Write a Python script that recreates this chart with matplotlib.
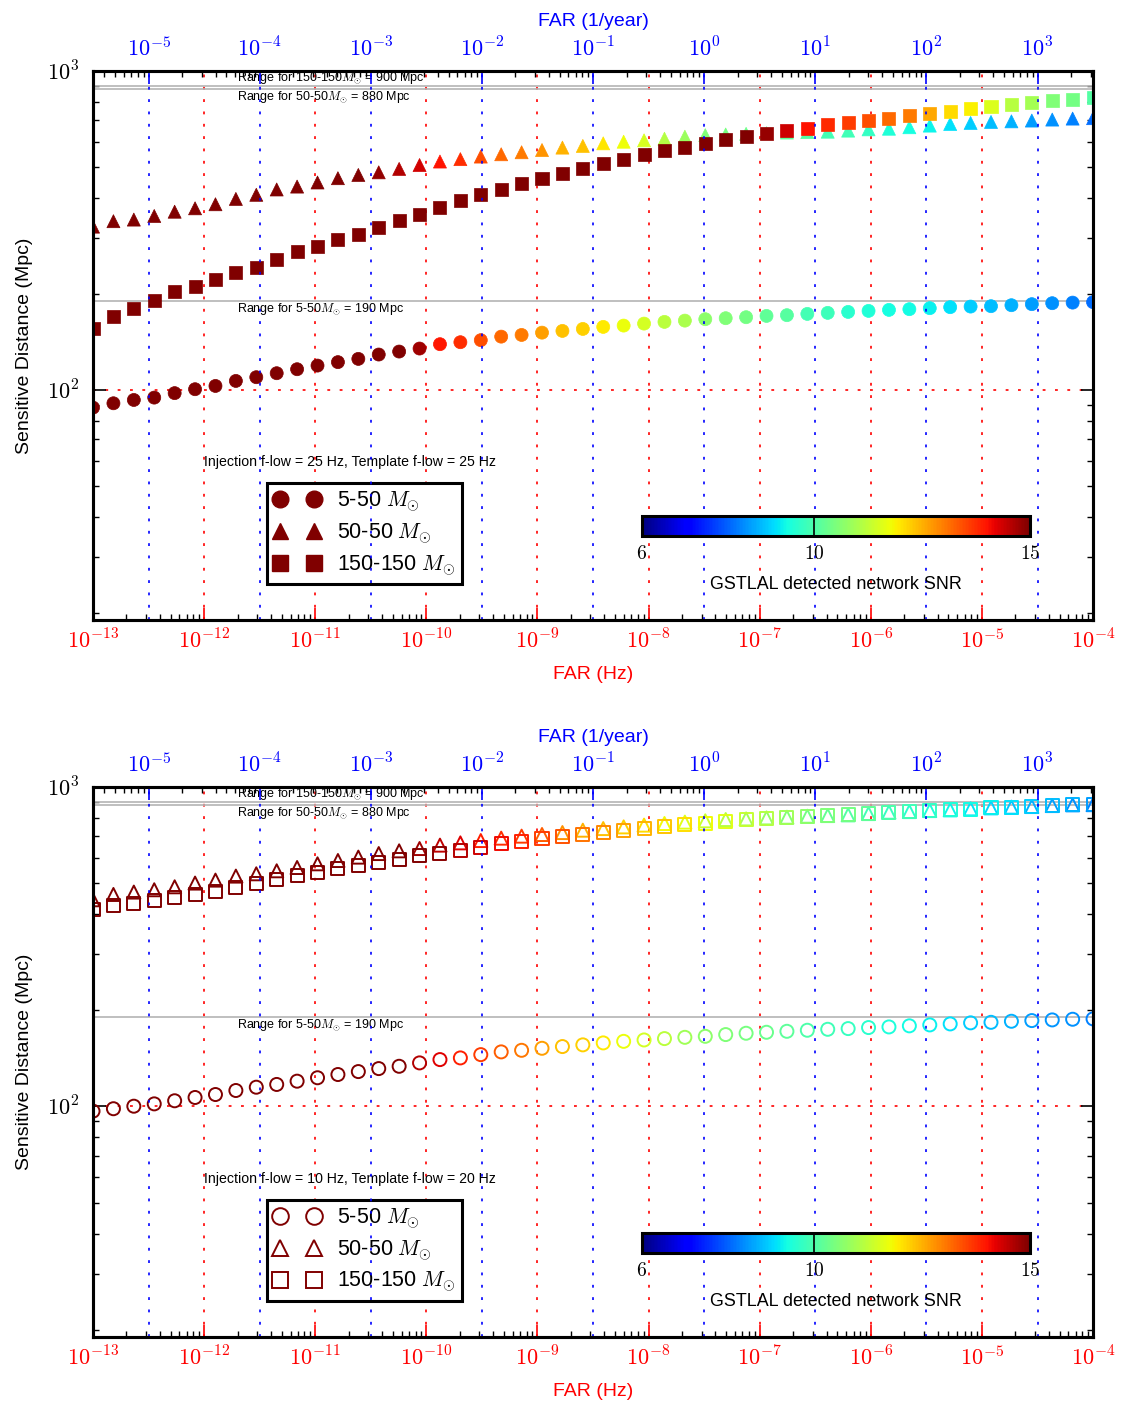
import numpy as np
import matplotlib
matplotlib.use('Agg')
import matplotlib.pyplot as plt
from matplotlib.lines import Line2D
from matplotlib import transforms
from matplotlib.colors import Normalize
from matplotlib.cm import ScalarMappable
from matplotlib.ticker import FuncFormatter

plt.rcParams['font.family'] = ['Liberation Sans', 'DejaVu Sans']
plt.rcParams['mathtext.fontset'] = 'cm'

# ---------------- data ----------------
log_far_hz = [-13.0, -12.8163, -12.6327, -12.449, -12.2653, -12.0816, -11.898, -11.7143, -11.5306, -11.3469,
              -11.1633, -10.9796, -10.7959, -10.6122, -10.4286, -10.2449, -10.0612, -9.8776, -9.6939, -9.5102,
              -9.3265, -9.1429, -8.9592, -8.7755, -8.5918, -8.4082, -8.2245, -8.0408, -7.8571, -7.6735,
              -7.4898, -7.3061, -7.1224, -6.9388, -6.7551, -6.5714, -6.3878, -6.2041, -6.0204, -5.8367,
              -5.6531, -5.4694, -5.2857, -5.102, -4.9184, -4.7347, -4.551, -4.3673, -4.1837, -4.0]

mass_labels = [r'5-50 $M_{\odot}$', r'50-50 $M_{\odot}$', r'150-150 $M_{\odot}$']
range_labels = [r'Range for 150-150$M_{\odot}$ = 900 Mpc', r'Range for 50-50$M_{\odot}$ = 880 Mpc',
                r'Range for 5-50$M_{\odot}$ = 190 Mpc']
range_values = [900, 880, 190]
flow_labels = ['Injection f-low = 25 Hz, Template f-low = 25 Hz',
               'Injection f-low = 10 Hz, Template f-low = 20 Hz']
snr_ticks = [6, 10, 15]

# top panel (f-low 25/25)
top_dist_5_50 = [88.0, 90.8, 93.0, 94.6, 97.7, 100.5, 102.9, 106.7, 109.6, 112.8,
                 116.1, 119.2, 122.2, 125.1, 129.1, 131.9, 134.8, 139.1, 141.1, 143.2,
                 146.9, 148.7, 151.2, 153.1, 155.3, 157.6, 159.1, 161.4, 163.4, 164.9,
                 166.6, 167.8, 169.0, 170.6, 171.5, 173.1, 174.4, 175.6, 176.9, 178.2,
                 179.1, 180.4, 181.7, 182.5, 183.0, 184.3, 185.7, 187.0, 187.8, 188.4]
top_snr_5_50 = [19.8, 19.4, 19.0, 18.6, 18.2, 17.9, 17.6, 17.3, 17.0, 16.7,
                16.4, 16.1, 15.8, 15.5, 15.3, 15.05, 14.75, 13.95, 13.75, 13.45,
                13.2, 13.0, 12.65, 12.35, 12.2, 11.95, 11.7, 11.45, 11.2, 11.0,
                10.7, 10.55, 10.4, 10.2, 10.1, 9.9, 9.8, 9.6, 9.5, 9.4,
                9.35, 9.25, 9.1, 8.95, 8.8, 8.7, 8.5, 8.4, 8.25, 8.1]
top_dist_50_50 = [325, 338, 342, 351, 362, 371, 382, 397, 409, 425,
                  434, 447, 461, 472, 481, 493, 507, 520, 529, 539,
                  548, 556, 565, 575, 582, 593, 600, 606, 613, 622,
                  629, 632, 635, 638, 641, 643, 645, 650, 656, 659,
                  666, 674, 682, 687, 692, 695, 699, 704, 709, 711]
top_snr_50_50 = [20.5, 20.0, 19.6, 19.2, 18.8, 18.4, 18.0, 17.6, 17.2, 16.8,
                 16.4, 16.0, 15.6, 15.1, 14.85, 14.6, 14.35, 14.0, 13.75, 13.45,
                 13.2, 13.0, 12.75, 12.5, 12.35, 12.0, 11.75, 11.5, 11.1, 10.85,
                 10.55, 10.45, 10.35, 10.25, 10.15, 10.05, 9.9, 9.85, 9.7, 9.5,
                 9.4, 9.3, 9.1, 8.95, 8.8, 8.7, 8.5, 8.4, 8.25, 8.1]
top_dist_150_150 = [156.1, 169.7, 180.4, 190.1, 203.3, 210.8, 221.2, 233.2, 242.5, 255.6,
                    271.4, 281.3, 295.3, 307.7, 323.6, 338.8, 355.6, 373.9, 391.3, 408.6,
                    425.1, 442.3, 460.3, 477.9, 493.0, 512.2, 526.0, 546.6, 562.6, 576.6,
                    593.5, 607.7, 622.3, 636.0, 650.0, 661.3, 677.2, 687.1, 698.6, 708.8,
                    722.7, 733.3, 748.0, 760.0, 772.0, 783.0, 793.8, 805.3, 812.8, 824.6]
top_snr_150_150 = [28.0, 27.5, 27.0, 26.5, 26.0, 25.5, 25.0, 24.5, 24.0, 23.5,
                   23.0, 22.5, 22.0, 21.5, 21.0, 20.5, 20.0, 19.5, 19.0, 18.6,
                   18.2, 17.8, 17.4, 17.0, 16.7, 16.4, 16.1, 15.9, 15.7, 15.5,
                   15.35, 15.2, 15.1, 14.8, 14.4, 14.0, 13.8, 13.6, 13.45, 13.2,
                   13.0, 12.6, 12.1, 11.9, 11.55, 11.15, 10.95, 10.55, 10.4, 10.05]

# bottom panel (f-low 10/20)
bot_dist_5_50 = [96.7, 98.4, 100.2, 101.9, 104.2, 106.7, 109.0, 112.2, 114.9, 117.2,
                 120.0, 123.0, 125.9, 128.6, 131.4, 133.6, 136.9, 140.2, 141.9, 145.3,
                 148.2, 149.9, 152.1, 154.0, 155.9, 158.1, 159.9, 161.5, 163.1, 164.6,
                 165.8, 167.9, 169.5, 170.7, 171.9, 173.2, 174.4, 175.3, 176.6, 177.4,
                 178.8, 180.0, 181.3, 182.7, 183.4, 184.8, 185.7, 186.6, 187.5, 188.0]
bot_snr_5_50 = [19.8, 19.4, 19.0, 18.6, 18.2, 17.9, 17.6, 17.3, 17.0, 16.7,
                16.4, 16.1, 15.8, 15.5, 15.3, 15.05, 14.6, 14.25, 13.9, 13.6,
                13.3, 13.05, 12.65, 12.35, 12.2, 11.95, 11.7, 11.45, 11.2, 10.9,
                10.7, 10.55, 10.45, 10.3, 10.15, 10.0, 9.85, 9.75, 9.6, 9.45,
                9.35, 9.25, 9.1, 8.95, 8.8, 8.7, 8.5, 8.45, 8.4, 8.25]
bot_dist_50_50 = [443.5, 460.8, 468.8, 476.7, 487.0, 500.2, 511.0, 526.0, 534.8, 546.5,
                  559.6, 574.7, 588.5, 603.1, 618.8, 631.0, 641.6, 657.5, 668.3, 679.6,
                  691.4, 701.5, 709.8, 719.8, 732.3, 740.9, 749.9, 759.5, 768.3, 776.1,
                  783.3, 790.7, 794.3, 800.1, 804.1, 809.9, 813.5, 817.6, 825.3, 833.6,
                  837.3, 843.3, 847.6, 853.8, 860.0, 864.4, 868.2, 874.3, 878.8, 880.0]
bot_snr_50_50 = [20.5, 20.0, 19.6, 19.2, 18.8, 18.4, 18.0, 17.6, 17.2, 16.8,
                 16.4, 16.0, 15.7, 15.4, 15.2, 15.05, 14.75, 14.5, 14.25, 13.9,
                 13.75, 13.6, 13.3, 12.8, 12.5, 12.35, 12.2, 12.05, 11.8, 11.6,
                 11.35, 11.15, 10.95, 10.75, 10.6, 10.4, 10.25, 10.05, 9.9, 9.75,
                 9.6, 9.45, 9.3, 9.15, 9.0, 8.85, 8.7, 8.55, 8.4, 8.25]
bot_dist_150_150 = [412.6, 424.7, 433.1, 440.3, 450.9, 462.1, 470.8, 484.6, 500.2, 512.2,
                    527.1, 539.8, 554.3, 566.4, 580.0, 594.4, 608.6, 620.5, 632.2, 648.0,
                    663.6, 673.3, 688.0, 698.1, 709.8, 722.0, 730.4, 739.4, 751.8, 761.1,
                    766.7, 779.5, 789.0, 794.3, 802.0, 807.7, 813.5, 817.6, 823.5, 833.6,
                    837.3, 843.3, 847.6, 851.9, 861.8, 864.4, 868.2, 876.9, 878.8, 881.0]
bot_snr_150_150 = [21.0, 20.6, 20.2, 19.8, 19.4, 19.0, 18.6, 18.2, 17.8, 17.4,
                   17.0, 16.6, 16.3, 16.0, 15.7, 15.45, 15.2, 14.9, 14.6, 14.4,
                   14.1, 13.9, 13.6, 13.4, 13.1, 12.9, 12.65, 12.5, 12.3, 12.05,
                   11.8, 11.6, 11.3, 11.1, 10.9, 10.7, 10.55, 10.4, 10.2, 10.0,
                   9.85, 9.7, 9.5, 9.35, 9.25, 9.1, 8.95, 8.8, 8.7, 8.5]

SEC_PER_YEAR = 365.25 * 86400.0

# ---------------- figure ----------------
fig = plt.figure(figsize=(11.22, 14.02), dpi=100)
norm = Normalize(vmin=6, vmax=15)
cmap = plt.get_cmap('jet')
dark_red = cmap(1.0)
dots = (0, (1.7, 5.7))


def make_fmt(lo, hi):
    def fmt(v, pos):
        if v <= 0 or v < lo * 0.999 or v > hi * 1.001:
            return ''
        return r'$10^{%d}$' % int(round(np.log10(v)))
    return FuncFormatter(fmt)


def panel(rect, cbar_rect, series, filled, flow_text):
    ax = fig.add_axes(rect)
    far = 10.0 ** np.array(log_far_hz)
    markers = ['o', '^', 's']
    for (dist, snr), mk in zip(series, markers):
        cols = cmap(norm(np.array(snr)))
        if filled:
            ax.scatter(far, dist, c=cols, marker=mk, s=88, edgecolors=cols, linewidths=0.5, zorder=3)
        else:
            ax.scatter(far, dist, facecolors='none', edgecolors=cols, marker=mk, s=88,
                       linewidths=1.4, zorder=3)
    ax.set_xscale('log')
    ax.set_yscale('log')
    ax.set_xlim(1e-13, 1e-4)
    ax.set_ylim(19, 1000)
    ax.grid(True, which='major', color='red', linestyle=dots, linewidth=1.2)
    for sp in ax.spines.values():
        sp.set_linewidth(2.2)
    ax.xaxis.set_major_formatter(make_fmt(1e-13, 1e-4))
    ax.yaxis.set_major_formatter(make_fmt(19, 1000))
    ax.tick_params(axis='x', which='major', direction='in', length=9, width=1.2, color='red',
                   labelcolor='red', labelsize=16, pad=7, top=False)
    ax.tick_params(axis='x', which='minor', direction='in', length=4, width=1, color='black', top=False)
    ax.tick_params(axis='y', which='major', direction='in', length=9, width=1.2, color='black',
                   labelsize=16, pad=10, right=True)
    ax.tick_params(axis='y', which='minor', direction='in', length=4.5, width=1, color='black', right=True)
    ax.set_xlabel('FAR (Hz)', color='red', fontsize=14)
    ax.xaxis.set_label_coords(0.5, -0.083)
    ax.set_ylabel('Sensitive Distance (Mpc)', fontsize=14)
    ax.yaxis.set_label_coords(-0.06, 0.5)

    tr = transforms.blended_transform_factory(ax.transAxes, ax.transData)
    for val in range_values:
        ax.axhline(val, color='#b4b4b4', linewidth=1.2, zorder=2)
    ax.text(0.144, range_values[0], range_labels[0], transform=tr, fontsize=9, va='bottom', ha='left')
    ax.text(0.144, range_values[1], range_labels[1], transform=tr, fontsize=9, va='top', ha='left')
    ax.text(0.144, range_values[2], range_labels[2], transform=tr, fontsize=9, va='top', ha='left')
    ax.text(0.111, 0.288, flow_text, transform=ax.transAxes, fontsize=10.2, va='center', ha='left')

    if filled:
        kw = [dict(markerfacecolor=dark_red, markeredgecolor=dark_red)] * 3
    else:
        kw = [dict(markerfacecolor='none', markeredgecolor=dark_red, markeredgewidth=1.4)] * 3
    handles = [Line2D([], [], linestyle='none', marker=m, markersize=12, **k)
               for m, k in zip(['o', '^', 's'], kw)]
    leg = ax.legend(handles, mass_labels, loc='upper left', bbox_to_anchor=(0.174, 0.2495),
                    borderaxespad=0, fontsize=15.5, numpoints=2, handlelength=2.2,
                    handletextpad=0.75, borderpad=0.3, labelspacing=0.33, fancybox=False,
                    framealpha=1)
    leg.get_frame().set_edgecolor('black')
    leg.get_frame().set_linewidth(2.2)

    ax2 = ax.twiny()
    ax2.set_xscale('log')
    lo2, hi2 = 1e-13 * SEC_PER_YEAR, 1e-4 * SEC_PER_YEAR
    ax2.set_xlim(lo2, hi2)
    ax2.grid(True, which='major', axis='x', color='blue', linestyle=dots, linewidth=1.2)
    ax2.xaxis.set_major_formatter(make_fmt(lo2, hi2))
    ax2.tick_params(axis='x', which='major', direction='in', length=9, width=1.2, color='blue',
                    labelcolor='blue', labelsize=16, pad=7)
    ax2.tick_params(axis='x', which='minor', direction='in', length=4, width=1, color='black')
    for sp in ax2.spines.values():
        sp.set_linewidth(2.2)
    ax2.set_xlabel('FAR (1/year)', color='blue', fontsize=14)
    ax2.xaxis.set_label_coords(0.5, 1.082)

    cax = fig.add_axes(cbar_rect)
    sm = ScalarMappable(norm=norm, cmap=cmap)
    cb = fig.colorbar(sm, cax=cax, orientation='horizontal')
    cb.set_ticks(snr_ticks)
    cb.set_ticklabels([r'$%d$' % t for t in snr_ticks])
    cb.ax.tick_params(direction='in', length=14.4, width=1.2, color='black', labelsize=14, pad=7)
    cb.ax.minorticks_off()
    cb.outline.set_linewidth(2.2)
    cb.set_label('GSTLAL detected network SNR', fontsize=12.9, labelpad=9)
    return ax


top_series = [(top_dist_5_50, top_snr_5_50), (top_dist_50_50, top_snr_50_50),
              (top_dist_150_150, top_snr_150_150)]
bot_series = [(bot_dist_5_50, bot_snr_5_50), (bot_dist_50_50, bot_snr_50_50),
              (bot_dist_150_150, bot_snr_150_150)]

panel([0.0829, 0.5578, 0.8913, 0.3916], [0.572, 0.6179, 0.346, 0.01427], top_series, True, flow_labels[0])
panel([0.0829, 0.0464, 0.8913, 0.3923], [0.572, 0.1066, 0.346, 0.01427], bot_series, False, flow_labels[1])

fig.savefig('out.png', dpi=100)
